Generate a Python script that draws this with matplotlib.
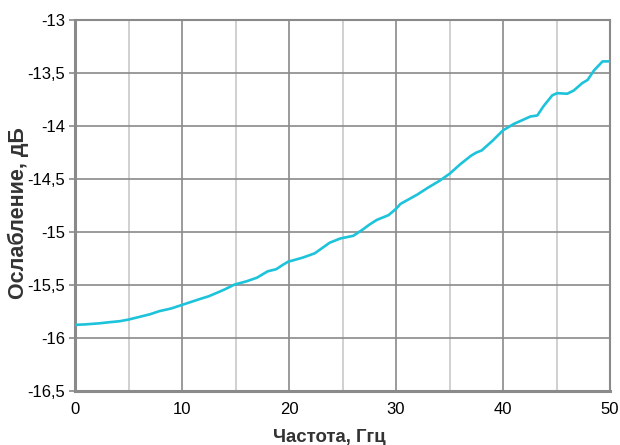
import matplotlib
matplotlib.use("Agg")
import matplotlib.pyplot as plt
from matplotlib.ticker import MultipleLocator, FuncFormatter

plt.rcParams['font.family'] = ['Liberation Sans', 'DejaVu Sans']

# frequency, GHz
freq = [0.0, 1.0, 2.3, 3.2, 4.2, 5.0, 6.0, 7.0, 7.9, 9.0, 9.9, 10.8, 11.7, 12.5,
        13.2, 14.0, 14.9, 16.0, 17.0, 17.5, 18.0, 18.8, 19.4, 19.9, 20.6, 21.3,
        22.4, 23.1, 23.8, 24.8, 26.0, 26.9, 27.5, 28.2, 29.3, 30.0, 30.4, 31.2,
        32.0, 33.0, 34.0, 35.0, 36.0, 37.0, 37.5, 38.0, 39.0, 40.0, 41.0, 42.0,
        42.55, 43.2, 43.8, 44.6, 45.05, 46.0, 46.6, 47.4, 47.9, 48.5, 49.3, 50.0]

# attenuation, dB
atten = [-15.875, -15.87, -15.86, -15.85, -15.84, -15.825, -15.80, -15.775, -15.745,
         -15.72, -15.69, -15.66, -15.63, -15.605, -15.575, -15.54, -15.495, -15.465,
         -15.43, -15.40, -15.37, -15.35, -15.31, -15.28, -15.26, -15.24, -15.20,
         -15.15, -15.10, -15.06, -15.035, -14.975, -14.93, -14.885, -14.84, -14.78,
         -14.735, -14.69, -14.645, -14.58, -14.52, -14.45, -14.36, -14.28, -14.25,
         -14.23, -14.14, -14.04, -13.98, -13.935, -13.91, -13.90, -13.81, -13.71,
         -13.69, -13.695, -13.665, -13.595, -13.565, -13.475, -13.39, -13.39]

fig = plt.figure(figsize=(6.2, 4.45), dpi=100)
ax = fig.add_axes([0.121, 0.121, 0.863, 0.834])

ax.plot(freq, atten, color='#1cc3da', linewidth=1.9, zorder=3)

ax.set_xlim(0, 50)
ax.set_ylim(-16.5, -13)
ax.xaxis.set_major_locator(MultipleLocator(10))
ax.xaxis.set_minor_locator(MultipleLocator(5))
ax.yaxis.set_major_locator(MultipleLocator(0.5))
ax.yaxis.set_major_formatter(FuncFormatter(lambda v, p: ('%g' % v).replace('.', ',')))

ax.grid(which='major', axis='both', color='#8a8a8a', linewidth=1.2)
ax.grid(which='minor', axis='x', color='#c8c8c8', linewidth=1.2)

for side in ['top', 'right', 'left', 'bottom']:
    ax.spines[side].set_color('#8a8a8a')
    ax.spines[side].set_linewidth(1.5)
ax.spines['left'].set_linewidth(2.2)
ax.spines['bottom'].set_linewidth(2.2)

ax.tick_params(axis='x', which='both', length=0, pad=8, labelsize=12, colors='#000000')
ax.tick_params(axis='y', which='major', length=4, width=1.2, color='#8a8a8a',
               pad=3, labelsize=12, labelcolor='#000000')

ax.set_xlabel('Частота, Ггц', fontsize=13.4, fontweight='bold', color='#333333')
ax.set_ylabel('Ослабление, дБ', fontsize=15.5, fontweight='bold', color='#333333')
ax.xaxis.set_label_coords(0.475, -0.124)
ax.xaxis.label.set_verticalalignment('center')
ax.yaxis.set_label_coords(-0.105, 0.48)
ax.yaxis.label.set_verticalalignment('center')

fig.savefig('out.png', dpi=100)
